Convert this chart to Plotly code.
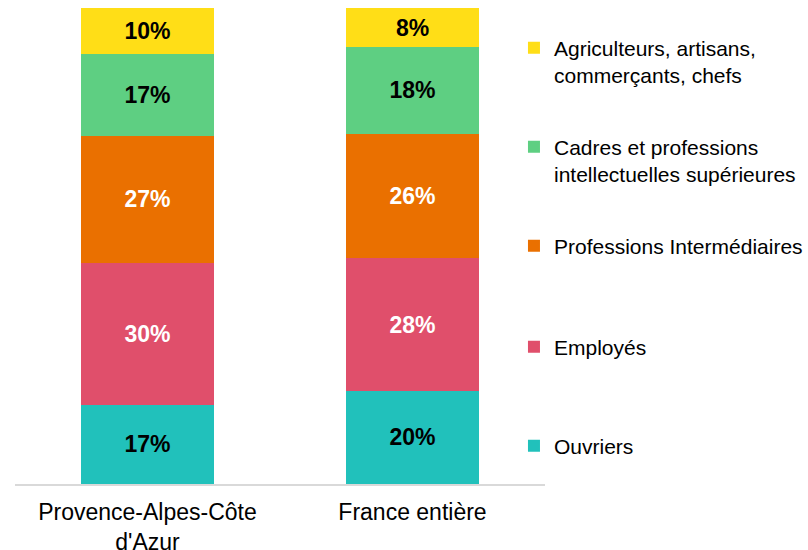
import plotly.graph_objects as go

# territoires
categories = ["Provence-Alpes-Côte<br>d'Azur", "France entière"]

# parts des catégories socioprofessionnelles (%), de bas en haut
ouvriers = [16.6, 19.6]
employes = [29.8, 27.8]
prof_inter = [26.8, 26.2]
cadres = [17.2, 18.2]
agriculteurs = [9.6, 8.2]

series = [
    ("Ouvriers", ouvriers, "#21C1BB", "black"),
    ("Employés", employes, "#E04F6B", "white"),
    ("Professions Intermédiaires", prof_inter, "#EA7000", "white"),
    ("Cadres et professions<br>intellectuelles supérieures", cadres, "#5ECF82", "black"),
    ("Agriculteurs, artisans,<br>commerçants, chefs", agriculteurs, "#FFDE17", "black"),
]

FONT = "Liberation Sans, Arial, sans-serif"

fig = go.Figure()
legend_names = ["legend5", "legend4", "legend3", "legend2", "legend"]
for (name, vals, col, tcol), lg in zip(series, legend_names):
    fig.add_trace(go.Bar(
        x=categories, y=vals, name=name,
        marker=dict(color=col, line=dict(width=0)),
        texttemplate="%{y:.0f}%", textposition="inside",
        insidetextanchor="middle",
        textfont=dict(family=FONT, size=23, color=tcol, weight="bold"),
        legend=lg,
    ))

# une légende par série pour reproduire l'espacement (coordonnées du conteneur)
leg_y = [0.950, 0.770, 0.590, 0.406, 0.226]
layout_legends = {}
for lg, yy in zip(["legend", "legend2", "legend3", "legend4", "legend5"], leg_y):
    layout_legends[lg] = dict(
        x=0.6361, y=yy, xref="container", yref="container",
        xanchor="left", yanchor="top",
        font=dict(family=FONT, size=21, color="black"),
        bgcolor="rgba(0,0,0,0)", valign="top",
    )

fig.update_layout(
    barmode="stack",
    bargap=0.5,
    width=808, height=550,
    margin=dict(l=15, r=263, t=8, b=66, autoexpand=False),
    paper_bgcolor="white", plot_bgcolor="white",
    font=dict(family=FONT, color="black"),
    showlegend=True,
    xaxis=dict(
        showline=True, linecolor="#D9D9D9", linewidth=2,
        tickfont=dict(family=FONT, size=23, color="black"),
        ticks="", showgrid=False, automargin=False,
        ticklabelstandoff=6,
    ),
    yaxis=dict(range=[0, 100], visible=False, showgrid=False, automargin=False),
    **layout_legends,
)

# la page a une marge de 8px par défaut : on la supprime
fig.write_html("out.html", config={"displayModeBar": False},
               post_script="document.body.style.margin='0';")
